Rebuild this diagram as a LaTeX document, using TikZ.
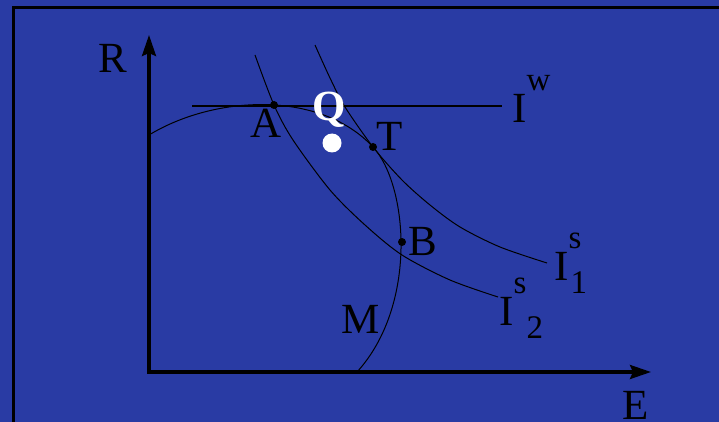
\documentclass[tikz,border=0pt]{standalone}
\usepackage{fontspec}
\setmainfont{Liberation Serif}
\usepackage{tikz}
\usetikzlibrary{arrows.meta}

\definecolor{slideblue}{RGB}{41,59,164}
% big I with raised superscript and lowered subscript
\newcommand{\Ilab}[3]{I\rlap{\raisebox{32pt}{\fontsize{33}{33}\selectfont #1}}\kern#3\raisebox{-13pt}{\fontsize{33}{33}\selectfont #2}}

\begin{document}
\begin{tikzpicture}[
  x=1pt, y=-1pt,
  font=\fontsize{43}{43}\selectfont,
  >={Stealth[length=21pt,width=14pt,inset=3pt]},
  axis/.style={<->, line width=3.2pt, draw=black},
  curve/.style={line width=1pt, draw=black},
  lab/.style={anchor=base west, inner sep=0pt, text=black},
  dot/.style={circle, fill=#1, inner sep=0pt, minimum size=8pt},
  dot/.default=black,
]
% ---- background and frame ----
\fill[slideblue] (0,0) rectangle (719,422);
\useasboundingbox (0,0) rectangle (719,422);
\draw[line width=3pt] (13.5,7.3) rectangle (740,440);

% ---- axes ----
\coordinate (O) at (149,372);
\coordinate (Rtip) at (149,35);
\coordinate (Etip) at (651,372);
\draw[axis] (Rtip) -- (O) -- (Etip);
\node[lab] (Rlab) at (98,73) {R};
\node[lab] (Elab) at (622,419) {E};

% ---- curves ----
\draw[line width=1.3pt] (192,106) -- (502,106);
\draw[curve] (149,135) .. controls (215,95) and (320,90) .. (373,147) .. controls (408,185) and (418,305) .. (357,372);
\draw[curve] plot[smooth] coordinates {(255,55) (274,105) (293,140) (330,190) (365,225) (402,255) (450,280) (498,297)};
\draw[curve] plot[smooth] coordinates {(315,45) (330,78) (345,107) (373,147) (402,180) (430,205) (460,227) (500,247) (547,263)};

% ---- points ----
\node[dot] (A) at (274,105) {};
\node[dot] (T) at (373,147) {};
\node[dot] (B) at (402,242) {};
\node[dot=white, minimum size=19pt] (Qdot) at (332,143) {};

% ---- labels ----
\node[lab] (Alab) at (250,138) {A};
\node[lab] (Tlab) at (376,150) {T};
\node[lab] (Blab) at (408,255) {B};
\node[lab] (Mlab) at (341,333) {M};
\node[lab, text=white, font=\fontsize{43}{43}\selectfont\bfseries] (Qlab) at (312,121) {Q};
\node[lab] (Iw) at (512,123) {\Ilab{w}{}{0pt}};
\node[lab] (Is1) at (554,280) {\Ilab{s}{1}{2pt}};
\node[lab] (Is2) at (499,325) {\Ilab{s}{2}{13pt}};
\end{tikzpicture}
\end{document}
